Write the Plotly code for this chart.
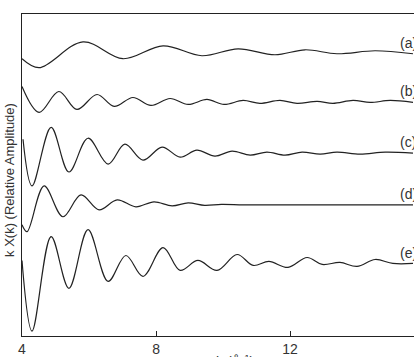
import plotly.graph_objects as go

# wavenumber k (Å^-1) and relative amplitudes
k_a = [4.00, 4.51, 5.82, 7.01, 8.21, 9.37, 10.45, 11.55, 12.45, 13.40, 14.54, 15.67]
y_a = [-5, -14, 12, -5, 8, -2, 5, -1, 4, 0, 3, 0]

k_b = [4.00, 4.51, 5.10, 5.64, 6.24, 6.75, 7.31, 7.85, 8.42, 8.96, 9.52,
       10.03, 10.60, 11.10, 11.70, 12.21, 12.81, 13.28, 13.88, 14.39, 14.99, 15.67]
y_b = [15, -11, 10, -8, 7, -5, 4, -4, 3, -3, 2, -3, 1, -2, 1, -2, 0, -2, 1, -1, 1, -1]

k_c = [4.03, 4.30, 4.87, 5.40, 5.97, 6.57, 7.07, 7.61, 8.18, 8.72, 9.22,
       9.76, 10.27, 10.81, 11.31, 11.85, 12.36, 12.90, 13.40, 14.09, 14.84, 15.67]
y_c = [14, -33, 26, -19, 15, -11, 9, -7, 6, -4, 3, -3, 2, -2, 1, -2, 1, -1, 1, -1, 1, 0]

k_d = [4.00, 4.15, 4.66, 5.22, 5.76, 6.30, 6.84, 7.40, 7.94, 8.48, 8.96, 9.45, 9.95, 10.60, 11.40, 15.67]
y_d = [-20, -27, 19, -12, 10, -5, 5, -2, 3, -1, 2, -0.5, 0.5, 0, 0, 0]

k_e = [4.00, 4.30, 4.87, 5.40, 5.97, 6.57, 7.10, 7.61, 8.21, 8.72, 9.25, 9.82,
       10.42, 10.90, 11.37, 11.94, 12.51, 12.96, 13.49, 14.00, 14.54, 15.07, 15.67]
y_e = [3, -68, 27, -25, 34, -18, 8, -13, 16, -7, 3, -7, 9, -2, 2, -4, 6, -1, 1, -3, 4, 0, 0]

labels = ["(a)", "(b)", "(c)", "(d)", "(e)"]
offsets = [284, 236, 184, 132, 73]
series = [(k_a, y_a), (k_b, y_b), (k_c, y_c), (k_d, y_d), (k_e, y_e)]

x_ticks = [4, 8, 12]
x_tick_text = ["4", "8", "12"]

FONT = "Liberation Sans"
INK = "#222222"
TXT = "#333333"

fig = go.Figure()
for (kk, yy), off in zip(series, offsets):
    fig.add_trace(go.Scatter(
        x=kk, y=[v + off for v in yy], mode="lines",
        line=dict(color=INK, width=1.2, shape="spline", smoothing=1.0),
        showlegend=False, hoverinfo="skip"))

for lab, off in zip(labels, offsets):
    fig.add_annotation(x=15.22, y=off + 11, xref="x", yref="y", text=lab,
                       showarrow=False, xanchor="left", yanchor="middle",
                       font=dict(family=FONT, size=14, color=TXT))

# y-axis title (plot area is 392 px wide starting at x=22, 324 px tall)
fig.add_annotation(x=(10 - 22) / 392, y=(338 - 181) / 324, xref="paper", yref="paper",
                   text="k X(k) (Relative Amplitude)", textangle=-90,
                   showarrow=False, xanchor="center", yanchor="middle",
                   font=dict(family=FONT, size=13, color=TXT))

# x-axis title (mostly below the visible frame, as in the reference)
fig.add_annotation(x=(235 - 22) / 392, y=-14 / 324, xref="paper", yref="paper",
                   text="k (Å<sup>-1</sup>)", showarrow=False,
                   xanchor="center", yanchor="top",
                   font=dict(family=FONT, size=14, color=TXT))

fig.update_layout(
    width=414, height=357,
    margin=dict(l=22, r=0, t=14, b=19),
    paper_bgcolor="white", plot_bgcolor="white",
    xaxis=dict(range=[4, 15.70], tickvals=x_ticks, ticktext=x_tick_text,
               ticks="inside", ticklen=5, tickcolor=INK, showgrid=False,
               zeroline=False, showline=True, linecolor=INK, linewidth=1.2,
               mirror=True, tickfont=dict(family=FONT, size=14, color=TXT)),
    yaxis=dict(range=[0, 324], showticklabels=False, ticks="", showgrid=False,
               zeroline=False, showline=True, linecolor=INK, linewidth=1.2,
               mirror=False),
)

fig.write_html("out.html")
